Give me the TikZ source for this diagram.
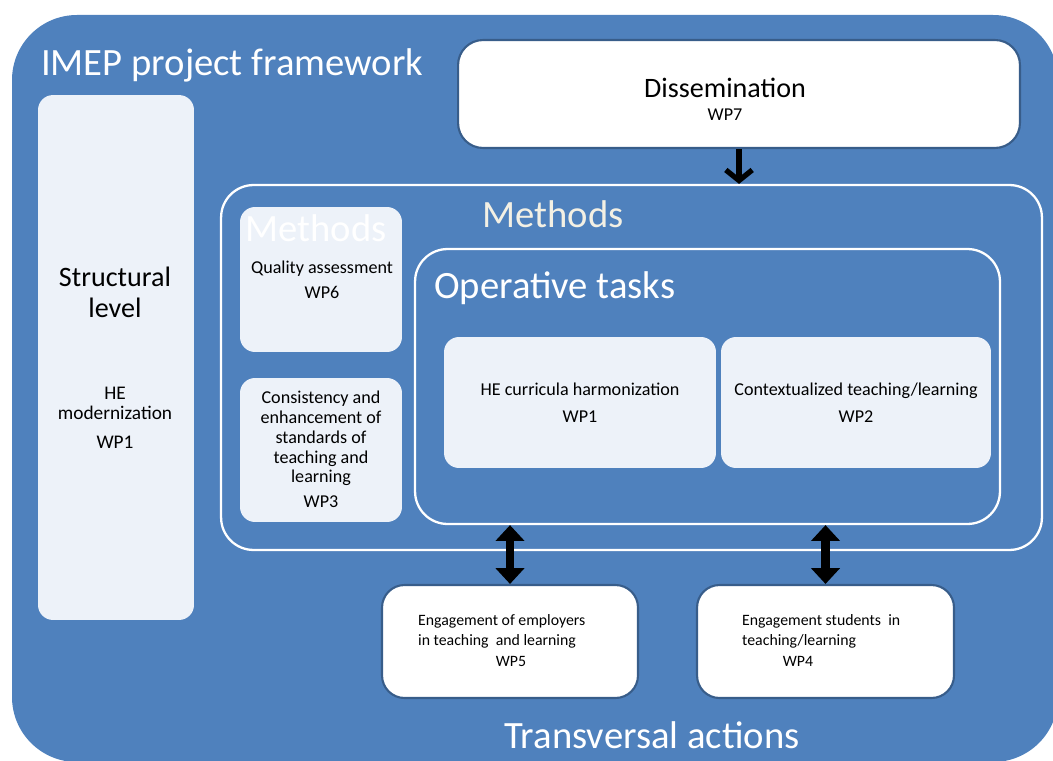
\documentclass[tikz,border=0pt]{standalone}
\usepackage{fontspec}
\setmainfont{Carlito}
\usetikzlibrary{arrows.meta,positioning}

\definecolor{frameblue}{RGB}{79,129,189}
\definecolor{cardline}{RGB}{56,93,138}
\definecolor{panelfill}{RGB}{237,242,249}
\definecolor{headcream}{RGB}{243,240,228}

\begin{document}
\begin{tikzpicture}[x=0.02cm,y=-0.02cm,
    panel/.style={fill=panelfill,rounded corners=0.3cm,inner sep=0pt},
    card/.style={fill=white,draw=cardline,line width=1.2pt,rounded corners=0.45cm,inner sep=0pt},
    group/.style={draw=white,line width=1.3pt,rounded corners=0.65cm,inner sep=0pt},
    headtext/.style={text=white,font=\fontsize{22}{26}\selectfont},
    titletext/.style={font=\fontsize{16}{17.6}\selectfont,align=center},
    bodytext/.style={font=\fontsize{10.3}{11.3}\selectfont,align=center},
    cardtext/.style={font=\fontsize{9}{11.3}\selectfont,align=left},
    downarrow/.style={line width=3pt,-{Straight Barb[width=15pt,length=6pt]}},
    dblarrow/.style={line width=5pt,{Triangle[width=16pt,length=9pt]}-{Triangle[width=16pt,length=9pt]}}]

  \clip (0,0) rectangle (1053,760);
  % Blue background
  \fill[frameblue,rounded corners=1.3cm] (12,15) rectangle (1058,762);
  \node[headtext,anchor=west] (framework) at (35,65) {IMEP project framework};

  % Structural level
  \node[panel,minimum width=3.12cm,minimum height=10.5cm] (structbox) at (116,357.5) {};
  \node[titletext] (structtitle) at (115,292) {Structural\\level};
  \node[bodytext,font=\fontsize{11}{11.3}\selectfont] (structwp) at (115,418) {HE\\modernization\\[5pt]WP1};

  % Dissemination
  \node[card,rounded corners=0.5cm,minimum width=11.24cm,minimum height=2.16cm] (diss) at (739,94) {};
  \node[titletext] (disstitle) at (725,88) {Dissemination};
  \node[bodytext] (disswp) at (725,115) {WP7};

  % Methods
  \node[group,minimum width=16.42cm,minimum height=7.3cm] (methbox) at (631.5,367.5) {};
  \node[headtext,text=headcream] (methtitle) at (553,214) {Methods};

  \node[panel,minimum width=3.24cm,minimum height=2.9cm] (qabox) at (321,279.5) {};
  \node[headtext] (qaghost) at (316,228) {Methods};
  \node[bodytext] (qatext) at (322,279.5) {Quality assessment\\[3pt]WP6};

  \node[panel,minimum width=3.24cm,minimum height=2.88cm] (consbox) at (321,450) {};
  \node[bodytext] (constext) at (321,449.5) {Consistency and\\enhancement of\\standards of\\teaching and\\learning\\[3pt]WP3};

  % Operative tasks
  \node[group,minimum width=11.7cm,minimum height=5.5cm] (ops) at (707.5,386.5) {};
  \node[headtext,anchor=west] (opstitle) at (428,288) {Operative tasks};
  \node[panel,minimum width=5.44cm,minimum height=2.62cm] (hecbox) at (580,402.5) {};
  \node[bodytext] (hectext) at (580,402.5) {HE curricula harmonization\\[4pt]WP1};
  \node[panel,minimum width=5.4cm,minimum height=2.62cm] (ctxbox) at (856,402.5) {};
  \node[bodytext] (ctxtext) at (856,402.5) {Contextualized teaching/learning\\[4pt]WP2};

  % Transversal actions
  \node[card,minimum width=5.12cm,minimum height=2.26cm] (emp) at (510,641.5) {};
  \node[cardtext,anchor=west] (emptext) at (412,631) {Engagement of employers\\in teaching~ and learning};
  \node[cardtext] (empwp) at (511,661) {WP5};
  \node[card,minimum width=5.14cm,minimum height=2.26cm] (stu) at (825.5,641.5) {};
  \node[cardtext,anchor=west] (stutext) at (736,631) {Engagement students~ in\\teaching/learning};
  \node[cardtext] (stuwp) at (798,661) {WP4};
  \node[headtext] (transversal) at (652,735) {Transversal actions};

  % Links
  \draw[downarrow] (diss.south) -- (diss.south |- methbox.north);
  \draw[dblarrow] (emp.north) -- (emp.north |- ops.south);
  \draw[dblarrow] (stu.north) -- (stu.north |- ops.south);
\end{tikzpicture}
\end{document}
